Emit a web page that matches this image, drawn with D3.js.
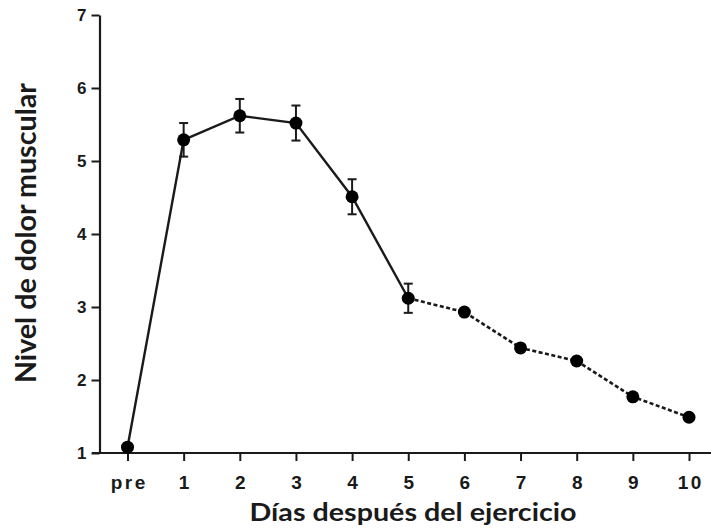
<!DOCTYPE html>
<html>
<head>
<meta charset="utf-8">
<script src="https://cdn.jsdelivr.net/npm/d3@7"></script>
<style>
  body { margin: 0; background: #fff; }
  svg { display: block; }
</style>
</head>
<body>
<svg id="chart" width="711" height="528"></svg>
<script>
// data
var days = ["pre", "1", "2", "3", "4", "5", "6", "7", "8", "9", "10"];
var dolor = [1.08, 5.29, 5.62, 5.52, 4.51, 3.12, 2.93, 2.44, 2.26, 1.77, 1.49];
var errores = [null, 0.23, 0.23, 0.24, 0.24, 0.2, null, null, null, null, null];
var yTicks = [1, 2, 3, 4, 5, 6, 7];

var svg = d3.select("#chart");

var x = d3.scalePoint()
    .domain(days)
    .range([127.5, 689]);

var y = d3.scaleLinear()
    .domain([1, 7])
    .range([453, 15]);

var ink = "#1a1a1a";
var tickFont = "'Liberation Sans', Arial, sans-serif";
var titleFont = "Lato, 'Open Sans', sans-serif";

// y axis
var yAxis = svg.append("g")
    .attr("transform", "translate(99.5,0)")
    .call(d3.axisLeft(y).tickValues(yTicks).tickFormat(d3.format("d"))
      .tickSize(8).tickSizeOuter(0).tickPadding(5));
yAxis.select(".domain").attr("stroke", ink).attr("stroke-width", 2.2);
yAxis.selectAll(".tick line").attr("stroke", ink).attr("stroke-width", 2);
yAxis.selectAll(".tick text")
    .attr("fill", ink)
    .style("font-family", tickFont)
    .style("font-weight", "bold")
    .style("font-size", "17px");

// x axis
var xAxis = svg.append("g")
    .attr("transform", "translate(0," + y(1) + ")")
    .call(d3.axisBottom(x).tickSize(8).tickSizeOuter(0).tickPadding(15));
xAxis.select(".domain").remove();
xAxis.append("line")
    .attr("x1", 92).attr("x2", 711)
    .attr("y1", 0).attr("y2", 0)
    .attr("stroke", ink).attr("stroke-width", 2.2);
xAxis.selectAll(".tick line").attr("stroke", ink).attr("stroke-width", 2);
xAxis.selectAll(".tick text")
    .attr("fill", ink)
    .attr("dx", 1.25)
    .style("font-family", tickFont)
    .style("font-weight", "bold")
    .style("font-size", "19px")
    .style("letter-spacing", "2.5px");

// axis titles
svg.append("text")
    .attr("transform", "translate(35.5,233) rotate(-90)")
    .attr("text-anchor", "middle")
    .attr("fill", ink)
    .attr("textLength", 300)
    .attr("lengthAdjust", "spacingAndGlyphs")
    .style("font-family", titleFont)
    .style("font-weight", "bold")
    .style("font-size", "29px")
    .text("Nivel de dolor muscular");

svg.append("text")
    .attr("x", 413)
    .attr("y", 521)
    .attr("text-anchor", "middle")
    .attr("fill", ink)
    .attr("textLength", 327)
    .attr("lengthAdjust", "spacingAndGlyphs")
    .style("font-family", titleFont)
    .style("font-weight", "bold")
    .style("font-size", "25px")
    .text("Días después del ejercicio");

var pts = days.map(function(d, i) {
  return { day: d, v: dolor[i], e: errores[i] };
});

var line = d3.line()
    .x(function(d) { return x(d.day); })
    .y(function(d) { return y(d.v); });

// solid part: pre to day 5
svg.append("path")
    .datum(pts.slice(0, 6))
    .attr("d", line)
    .attr("fill", "none")
    .attr("stroke", ink)
    .attr("stroke-width", 2.4);

// dashed part: day 5 to day 10
svg.append("path")
    .datum(pts.slice(5))
    .attr("d", line)
    .attr("fill", "none")
    .attr("stroke", ink)
    .attr("stroke-width", 2.6)
    .attr("stroke-dasharray", "4,2.5");

// error bars
var eb = svg.append("g").selectAll("g")
    .data(pts.filter(function(d) { return d.e != null; }))
    .enter().append("g");

eb.append("line")
    .attr("x1", function(d) { return x(d.day); })
    .attr("x2", function(d) { return x(d.day); })
    .attr("y1", function(d) { return y(d.v + d.e); })
    .attr("y2", function(d) { return y(d.v - d.e); })
    .attr("stroke", ink).attr("stroke-width", 2);

[1, -1].forEach(function(s) {
  eb.append("line")
      .attr("x1", function(d) { return x(d.day) - 4.5; })
      .attr("x2", function(d) { return x(d.day) + 4.5; })
      .attr("y1", function(d) { return y(d.v + s * d.e); })
      .attr("y2", function(d) { return y(d.v + s * d.e); })
      .attr("stroke", ink).attr("stroke-width", 2);
});

// points
svg.append("g").selectAll("circle")
    .data(pts)
    .enter().append("circle")
    .attr("cx", function(d) { return x(d.day); })
    .attr("cy", function(d) { return y(d.v); })
    .attr("r", 6.5)
    .attr("fill", "#000");
</script>
</body>
</html>
